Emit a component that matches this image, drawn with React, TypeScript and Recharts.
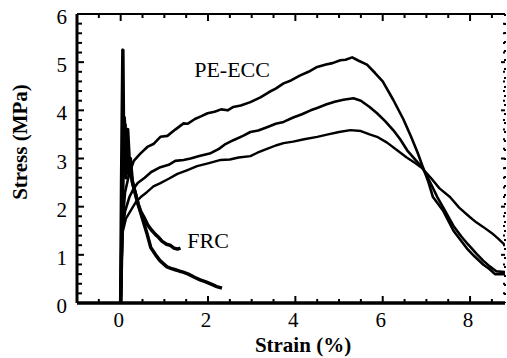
import { LineChart, Line, XAxis, YAxis, ReferenceDot } from 'recharts';

// strain (%) / stress (MPa) pairs
const frcPeak = [
  [0, 0], [0.02, 2.5], [0.05, 5.25], [0.07, 3.0], [0.1, 3.7], [0.12, 2.6], [0.15, 3.4],
  [0.18, 2.7], [0.22, 3.0], [0.27, 2.5], [0.33, 2.3], [0.4, 2.05], [0.46, 1.9], [0.55, 1.75],
  [0.62, 1.62], [0.7, 1.52], [0.8, 1.42], [0.86, 1.37], [0.95, 1.28], [1.05, 1.22], [1.13, 1.2],
  [1.22, 1.14], [1.3, 1.12], [1.37, 1.14],
];

const frcTail = [
  [0, 0], [0.08, 3.85], [0.12, 3.3], [0.16, 3.6], [0.2, 2.9], [0.25, 2.6], [0.3, 2.4],
  [0.4, 2.05], [0.5, 1.75], [0.6, 1.45], [0.69, 1.15], [0.8, 1.0], [0.9, 0.88], [1.06, 0.75],
  [1.15, 0.72], [1.25, 0.69], [1.35, 0.66], [1.43, 0.64], [1.55, 0.6], [1.7, 0.53],
  [1.82, 0.48], [1.95, 0.44], [2.1, 0.38], [2.2, 0.34], [2.32, 0.31],
];

const eccTop = [
  [0, 0], [0.04, 1.6], [0.1, 2.3], [0.2, 2.7], [0.3, 2.95], [0.45, 3.1], [0.61, 3.24],
  [0.75, 3.3], [0.91, 3.45], [1.07, 3.47], [1.25, 3.6], [1.44, 3.73], [1.53, 3.72],
  [1.7, 3.82], [1.85, 3.88], [1.99, 3.94], [2.15, 3.97], [2.3, 4.02], [2.45, 4.0],
  [2.58, 4.07], [2.75, 4.1], [2.97, 4.17], [3.2, 4.27], [3.4, 4.38], [3.55, 4.45],
  [3.73, 4.56], [3.9, 4.62], [4.1, 4.72], [4.3, 4.8], [4.5, 4.9], [4.7, 4.95], [4.85, 4.98],
  [5.03, 5.04], [5.15, 5.05], [5.3, 5.1], [5.45, 5.03], [5.64, 4.95], [5.82, 4.78],
  [6.0, 4.6], [6.24, 4.22], [6.47, 3.82], [6.65, 3.45], [6.8, 3.12], [6.92, 2.82],
  [7.05, 2.5], [7.15, 2.2], [7.38, 1.92], [7.62, 1.5], [7.93, 1.13], [8.1, 0.97],
  [8.3, 0.8], [8.45, 0.7], [8.57, 0.6], [8.8, 0.6],
];

const eccMid = [
  [0, 0], [0.04, 1.5], [0.1, 1.9], [0.2, 2.2], [0.3, 2.38], [0.39, 2.49], [0.55, 2.6],
  [0.7, 2.72], [0.91, 2.82], [1.1, 2.87], [1.25, 2.95], [1.44, 2.97], [1.6, 3.0],
  [1.8, 3.05], [2.06, 3.11], [2.25, 3.2], [2.4, 3.3], [2.58, 3.38], [2.8, 3.47],
  [2.97, 3.55], [3.15, 3.58], [3.35, 3.65], [3.55, 3.72], [3.73, 3.76], [3.95, 3.85],
  [4.15, 3.92], [4.35, 4.0], [4.5, 4.05], [4.7, 4.12], [4.9, 4.18], [5.1, 4.22],
  [5.33, 4.25], [5.5, 4.2], [5.7, 4.07], [5.87, 3.94], [6.05, 3.78], [6.24, 3.59],
  [6.4, 3.4], [6.56, 3.17], [6.75, 2.97], [6.92, 2.8], [7.1, 2.48], [7.25, 2.2],
  [7.4, 1.96], [7.62, 1.6], [7.8, 1.38], [7.95, 1.22], [8.15, 1.02], [8.3, 0.88],
  [8.45, 0.76], [8.6, 0.66], [8.8, 0.64],
];

const eccLow = [
  [0, 0], [0.04, 1.45], [0.12, 1.75], [0.25, 1.95], [0.35, 2.1], [0.46, 2.2], [0.6, 2.3],
  [0.75, 2.42], [0.91, 2.49], [1.1, 2.58], [1.3, 2.68], [1.53, 2.76], [1.75, 2.84],
  [2.0, 2.9], [2.29, 2.97], [2.5, 2.98], [2.7, 3.02], [2.97, 3.05], [3.13, 3.12],
  [3.35, 3.2], [3.55, 3.27], [3.73, 3.32], [3.95, 3.35], [4.2, 3.4], [4.5, 3.45],
  [4.75, 3.5], [5.0, 3.55], [5.26, 3.59], [5.5, 3.57], [5.7, 3.5], [5.87, 3.45],
  [6.1, 3.33], [6.33, 3.17], [6.55, 3.02], [6.75, 2.9], [6.9, 2.8], [7.1, 2.6],
  [7.3, 2.38], [7.54, 2.2], [7.75, 1.98], [8.0, 1.78], [8.15, 1.67], [8.3, 1.58],
  [8.5, 1.45], [8.65, 1.33], [8.8, 1.2],
];

const xLabels = [0, 2, 4, 6, 8];
const yLabels = [0, 1, 2, 3, 4, 5, 6];
const xDomain = [-1, 8.8];
const yDomain = [0, 6];

const annotations = [
  { x: 2.55, y: 4.86, text: 'PE-ECC' },
  { x: 2.0, y: 1.31, text: 'FRC' },
];

const xTicks = Array.from({ length: 20 }, (_, i) => -1 + i * 0.5);
const yTicks = Array.from({ length: 31 }, (_, i) => i / 5);

const toPoints = (rows: number[][]) => rows.map(([x, y]) => ({ x, y }));

const FONT = 'Liberation Serif, DejaVu Serif, serif';
const textStyle = { fontFamily: FONT };

function LeftTick({ x, y, payload }: any) {
  const v = payload.value;
  const major = yLabels.includes(v);
  return (
    <g>
      <line x1={x} x2={x + (major ? 7 : 5)} y1={y} y2={y} stroke="#000" strokeWidth={2} />
      {major && (
        <text x={x - 10} y={y} dy={3} textAnchor="end" dominantBaseline="central"
          style={textStyle} fontSize={21} fill="#000">{v}</text>
      )}
    </g>
  );
}

function RightTick({ x, y, payload }: any) {
  const major = yLabels.includes(payload.value);
  return <line x1={x} x2={x - (major ? 4 : 2)} y1={y} y2={y} stroke="#000" strokeWidth={2} />;
}

function BottomTick({ x, y, payload }: any) {
  const v = payload.value;
  const major = xLabels.includes(v);
  return (
    <g>
      <line x1={x} x2={x} y1={y} y2={y - (major ? 7 : 4)} stroke="#000" strokeWidth={2} />
      {major && (
        <text x={x - 2} y={y + 24} textAnchor="middle" style={textStyle} fontSize={21} fill="#000">{v}</text>
      )}
    </g>
  );
}

function TopTick({ x, y, payload }: any) {
  const major = xLabels.includes(payload.value);
  return <line x1={x} x2={x} y1={y} y2={y + (major ? 7 : 4)} stroke="#000" strokeWidth={2} />;
}

const series = [
  { key: 'frcPeak', data: frcPeak, width: 3.5 },
  { key: 'frcTail', data: frcTail, width: 3.5 },
  { key: 'eccTop', data: eccTop, width: 2.6 },
  { key: 'eccMid', data: eccMid, width: 2.6 },
  { key: 'eccLow', data: eccLow, width: 2.4 },
];

export default function App() {
  return (
    <div style={{ position: 'absolute', left: 0, top: 0, width: 507, height: 358, background: '#fff' }}>
      <LineChart width={507} height={358} margin={{ top: 0, right: 0, bottom: 0, left: 0 }}>
        <XAxis xAxisId="b" type="number" dataKey="x" domain={xDomain} allowDataOverflow
          ticks={xTicks} interval={0} tickSize={0} tickMargin={0} height={55}
          axisLine={{ stroke: '#000', strokeWidth: 3.5 }} tickLine={false} tick={<BottomTick />}
          label={{
            content: () => (
              <text x={303} y={352} textAnchor="middle" style={textStyle} fontSize={21} fontWeight="bold" fill="#000">
                Strain (%)
              </text>
            ),
          }} />
        <XAxis xAxisId="t" orientation="top" type="number" dataKey="x" domain={xDomain} allowDataOverflow
          ticks={xTicks} interval={0} tickSize={0} tickMargin={0} height={14}
          axisLine={{ stroke: '#000', strokeWidth: 2 }} tickLine={false} tick={<TopTick />} />
        <YAxis yAxisId="l" type="number" dataKey="y" domain={yDomain} allowDataOverflow
          ticks={yTicks} interval={0} tickSize={0} tickMargin={0} width={77}
          axisLine={{ stroke: '#000', strokeWidth: 3 }} tickLine={false} tick={<LeftTick />}
          label={{
            content: () => (
              <text x={27} y={142} transform="rotate(-90 27 142)" textAnchor="middle"
                style={textStyle} fontSize={21} fontWeight="bold" fill="#000">
                Stress (MPa)
              </text>
            ),
          }} />
        <YAxis yAxisId="r" orientation="right" type="number" dataKey="y" domain={yDomain} allowDataOverflow
          ticks={yTicks} interval={0} tickSize={0} tickMargin={0} width={2}
          axisLine={{ stroke: '#000', strokeWidth: 2, strokeDasharray: '2 7' }} tickLine={false} tick={<RightTick />} />
        {series.map((s) => (
          <Line key={s.key} xAxisId="b" yAxisId="l" data={toPoints(s.data)} dataKey="y" type="linear"
            stroke="#000" strokeWidth={s.width} dot={false} strokeLinejoin="round"
            isAnimationActive={false} />
        ))}
        {annotations.map((a) => (
          <ReferenceDot key={a.text} xAxisId="b" yAxisId="l" x={a.x} y={a.y} r={0}
            fill="none" stroke="none"
            label={{ value: a.text, position: 'center', style: textStyle, fontSize: 22, fill: '#000' }} />
        ))}
      </LineChart>
    </div>
  );
}
